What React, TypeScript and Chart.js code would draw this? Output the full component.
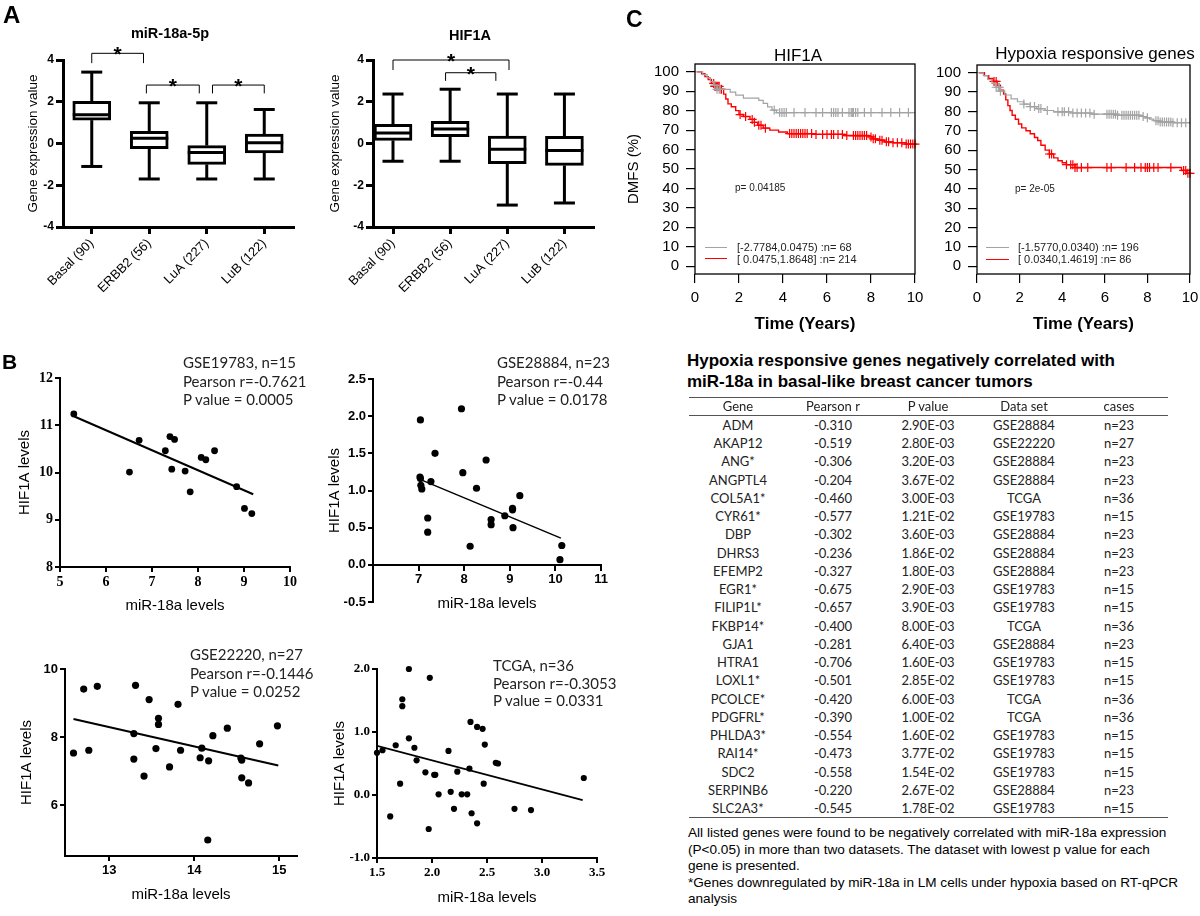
import React, { useEffect, useRef } from 'react';
import { Chart, registerables } from 'chart.js';
Chart.register(...registerables);

const SANS = "'Liberation Sans', Arial, Helvetica, sans-serif";
const SERIF = "'Liberation Serif', 'Times New Roman', serif";
const CAL = "Lato, 'Open Sans', 'Liberation Sans', sans-serif";
const NARROW = "'Liberation Sans Narrow', 'Liberation Sans', Arial, sans-serif";
Chart.defaults.font.family = SANS;
Chart.defaults.color = '#000';

// ---------------- Panel A: box plots ----------------
const SUBTYPES = ['Basal (90)', 'ERBB2 (56)', 'LuA (227)', 'LuB (122)'];
const MIR_MIN = [-1.1, -1.7, -1.7, -1.7];
const MIR_Q1 = [1.12, -0.25, -1.0, -0.45];
const MIR_MED = [1.38, 0.25, -0.43, 0.03];
const MIR_Q3 = [2.02, 0.58, -0.1, 0.45];
const MIR_MAX = [3.42, 1.95, 1.95, 1.63];
const HIF_MIN = [-0.85, -0.85, -2.95, -2.85];
const HIF_Q1 = [0.15, 0.33, -0.97, -1.05];
const HIF_MED = [0.5, 0.7, -0.28, -0.33];
const HIF_Q3 = [0.92, 1.06, 0.36, 0.34];
const HIF_MAX = [2.37, 2.6, 2.37, 2.37];
const MIR_BRACKETS = [
  { x0: 0, x1: 0.9, y: 4.32, drop: 3.85 },
  { x0: 0.95, x1: 1.87, y: 2.8, drop: 2.4 },
  { x0: 2.1, x1: 3.0, y: 2.8, drop: 2.4 },
];
const HIF_BRACKETS = [
  { x0: 0, x1: 2.03, y: 4.0, drop: 3.52 },
  { x0: 0.92, x1: 1.8, y: 3.39, drop: 3.0 },
];

// ---------------- Panel B: scatter plots ----------------
const GSE19783_MIR = [5.3, 6.51, 6.72, 7.29, 7.39, 7.49, 7.43, 7.72, 7.83, 8.07, 8.17, 8.36, 8.84, 9.01, 9.17];
const GSE19783_HIF = [11.24, 10.01, 10.68, 10.46, 10.76, 10.7, 10.07, 10.03, 9.59, 10.32, 10.27, 10.46, 9.7, 9.24, 9.13];
const GSE19783_FIT_X = [5.3, 9.2];
const GSE19783_FIT_Y = [11.19, 9.54];

const GSE28884_MIR = [7.04, 7.03, 7.05, 7.07, 7.27, 7.36, 7.2, 7.2, 7.94, 7.97, 8.13, 8.27, 8.48, 8.59, 8.59, 8.89, 9.06, 9.07, 9.22, 10.1, 10.14, 7.04, 9.06];
const GSE28884_HIF = [1.95, 1.18, 1.07, 1.02, 1.12, 1.5, 0.63, 0.44, 2.1, 1.24, 0.25, 1.03, 1.41, 0.61, 0.54, 0.66, 0.76, 0.5, 0.93, 0.07, 0.26, 1.16, 0.74];
const GSE28884_FIT_X = [7.03, 10.12];
const GSE28884_FIT_Y = [1.15, 0.36];

const GSE22220_MIR = [12.58, 12.7, 12.76, 12.86, 13.29, 13.29, 13.31, 13.41, 13.47, 13.55, 13.58, 13.58, 13.71, 13.81, 13.84, 14.07, 14.09, 14.17, 14.22, 14.16, 14.39, 14.55, 14.56, 14.56, 14.64, 14.77, 14.98];
const GSE22220_HIF = [7.53, 9.41, 7.61, 9.49, 7.35, 8.1, 9.52, 6.85, 9.1, 7.66, 8.37, 8.55, 7.12, 8.96, 7.61, 7.39, 7.67, 7.3, 8.04, 4.97, 8.26, 7.38, 7.32, 6.8, 6.65, 7.8, 8.33];
const GSE22220_FIT_X = [12.58, 14.99];
const GSE22220_FIT_Y = [8.53, 7.16];

const TCGA_MIR = [1.5, 1.55, 1.67, 1.62, 1.71, 1.73, 1.73, 1.79, 1.79, 1.84, 1.86, 1.94, 1.98, 1.97, 2.02, 2.03, 2.06, 2.15, 2.17, 2.2, 2.23, 2.27, 2.32, 2.34, 2.35, 2.36, 2.41, 2.41, 2.46, 2.47, 2.48, 2.58, 2.6, 2.75, 2.9, 3.38];
const TCGA_HIF = [0.67, 0.71, 0.79, -0.34, 0.18, 1.52, 1.41, 2.0, 0.9, 0.75, 0.55, 0.36, 1.86, -0.54, 0.32, 0.32, 0.01, 0.7, 0.05, -0.22, 0.37, 0.01, 0.01, 0.42, 1.16, -0.29, 1.08, -0.45, 1.05, 0.18, 0.8, 0.51, 0.5, -0.22, -0.24, 0.27];
const TCGA_FIT_X = [1.5, 3.37];
const TCGA_FIT_Y = [0.78, -0.08];

// ---------------- Panel C: Kaplan-Meier curves ----------------
const KM1_GRAY_T = [0, 0.35, 0.55, 0.7, 0.85, 1.0, 1.6, 1.85, 2.2, 2.9, 3.1, 3.3, 3.5, 3.7, 10];
const KM1_GRAY_S = [100, 98.5, 97, 95, 93, 91, 89.5, 88, 86.5, 85.3, 83.8, 82, 80.3, 79, 79];
const KM1_GRAY_CENSOR = [0.9, 1.0, 1.1, 1.15, 3.6, 3.85, 3.95, 4.05, 4.15, 4.5, 5.0, 5.5, 5.8, 6.2, 6.3, 6.4, 6.5, 6.7, 7.0, 7.1, 7.15, 7.2, 7.3, 7.4, 7.7, 8.0, 8.5, 8.9, 9.3, 9.7];
const KM1_RED_T = [0.1, 0.3, 0.45, 0.6, 0.75, 0.9, 1.15, 1.3, 1.4, 1.5, 1.65, 1.85, 2.0, 2.2, 2.5, 2.7, 2.85, 3.1, 3.4, 3.8, 4.2, 5.5, 6.8, 7.9, 8.1, 8.3, 8.6, 9.0, 9.6, 10];
const KM1_RED_S = [100, 99, 97.5, 96, 94, 92.5, 91, 88.5, 86, 83.5, 82, 80, 78, 77, 75.5, 74, 72.5, 71, 70, 69, 68.2, 67.8, 67.2, 66.5, 65.5, 64.8, 64, 63.5, 62.8, 62.8];
const KM1_RED_CENSOR = [0.85, 0.9, 0.95, 1.0, 1.05, 1.1, 1.2, 2.05, 2.3, 2.6, 2.7, 2.9, 3.0, 3.2, 4.3, 4.4, 4.5, 4.6, 4.7, 4.8, 4.9, 5.0, 5.1, 5.3, 5.5, 5.8, 6.0, 6.2, 6.3, 6.5, 6.7, 6.9, 7.2, 7.3, 7.4, 7.5, 7.6, 7.7, 7.8, 8.0, 8.1, 8.2, 8.4, 8.5, 8.7, 8.8, 9.0, 9.2, 9.4, 9.6, 9.7, 9.8, 9.9, 10.0];

const KM2_GRAY_T = [0, 0.3, 0.5, 0.7, 0.9, 1.1, 1.3, 1.6, 1.9, 2.2, 2.5, 2.8, 3.2, 3.6, 4.4, 5.4, 6.6, 7.7, 7.9, 8.1, 8.3, 8.6, 9.2, 10];
const KM2_GRAY_S = [100, 98.5, 96.5, 94.5, 92.5, 90.5, 88.5, 86.5, 85, 83.8, 82.5, 81.5, 80.5, 79.8, 79.2, 78.6, 78, 77.4, 76.7, 76, 75.2, 74.6, 74.2, 74.2];
const KM2_GRAY_CENSOR = [0.9, 1.0, 1.05, 1.1, 2.2, 2.5, 2.7, 2.9, 3.0, 3.3, 3.8, 4.0, 4.1, 4.3, 4.5, 4.7, 4.9, 5.1, 5.3, 5.5, 6.1, 6.2, 6.3, 6.4, 6.5, 6.6, 6.8, 6.9, 7.0, 7.1, 7.2, 7.3, 7.4, 7.5, 7.6, 7.8, 8.0, 8.4, 8.5, 8.6, 8.7, 8.8, 8.9, 9.0, 9.1, 9.2, 9.4, 9.6, 9.8];
const KM2_RED_T = [0.1, 0.35, 0.55, 0.75, 0.95, 1.1, 1.25, 1.35, 1.45, 1.55, 1.65, 1.8, 1.95, 2.1, 2.3, 2.5, 2.7, 2.85, 3.0, 3.2, 3.4, 3.6, 3.8, 4.0, 4.2, 4.6, 9.6, 9.85, 10];
const KM2_RED_S = [100, 98.5, 97, 95.5, 93.5, 91, 89, 86, 83, 80.5, 78, 76, 73.5, 71.5, 70, 68.5, 66.5, 65, 62.5, 60, 58, 56, 54.5, 53.5, 52.5, 51, 49.5, 48, 48];
const KM2_RED_CENSOR = [0.8, 0.9, 3.4, 3.5, 4.2, 4.4, 4.5, 4.6, 4.7, 4.9, 5.2, 6.1, 6.3, 7.0, 7.4, 7.7, 7.9, 8.0, 8.1, 8.3, 8.5, 9.1, 9.7, 9.8, 9.9, 10.0];
const KM_Y_TICKS = [0, 10, 20, 30, 40, 50, 60, 70, 80, 90, 100];
const KM_X_TICKS = [0, 2, 4, 6, 8, 10];

// ---------------- Table ----------------
const TABLE_HEAD = ['Gene', 'Pearson r', 'P value', 'Data set', 'cases'];
const GENES = ['ADM', 'AKAP12', 'ANG*', 'ANGPTL4', 'COL5A1*', 'CYR61*', 'DBP', 'DHRS3', 'EFEMP2', 'EGR1*', 'FILIP1L*', 'FKBP14*', 'GJA1', 'HTRA1', 'LOXL1*', 'PCOLCE*', 'PDGFRL*', 'PHLDA3*', 'RAI14*', 'SDC2', 'SERPINB6', 'SLC2A3*'];
const PEARSON = ['-0.310', '-0.519', '-0.306', '-0.204', '-0.460', '-0.577', '-0.302', '-0.236', '-0.327', '-0.675', '-0.657', '-0.400', '-0.281', '-0.706', '-0.501', '-0.420', '-0.390', '-0.554', '-0.473', '-0.558', '-0.220', '-0.545'];
const PVALUES = ['2.90E-03', '2.80E-03', '3.20E-03', '3.67E-02', '3.00E-03', '1.21E-02', '3.60E-03', '1.86E-02', '1.80E-03', '2.90E-03', '3.90E-03', '8.00E-03', '6.40E-03', '1.60E-03', '2.85E-02', '6.00E-03', '1.00E-02', '1.60E-02', '3.77E-02', '1.54E-02', '2.67E-02', '1.78E-02'];
const DATASETS = ['GSE28884', 'GSE22220', 'GSE28884', 'GSE28884', 'TCGA', 'GSE19783', 'GSE28884', 'GSE28884', 'GSE28884', 'GSE19783', 'GSE19783', 'TCGA', 'GSE28884', 'GSE19783', 'GSE19783', 'TCGA', 'TCGA', 'GSE19783', 'GSE19783', 'GSE19783', 'GSE28884', 'GSE19783'];
const CASES = ['n=23', 'n=27', 'n=23', 'n=23', 'n=36', 'n=15', 'n=23', 'n=23', 'n=23', 'n=15', 'n=15', 'n=36', 'n=23', 'n=15', 'n=15', 'n=36', 'n=36', 'n=15', 'n=15', 'n=15', 'n=23', 'n=15'];
const FOOTNOTE = [
  'All listed genes were found to be negatively correlated with miR-18a expression',
  '(P<0.05) in more than two datasets. The dataset with lowest p value for each',
  'gene is presented.',
  '*Genes downregulated by miR-18a in LM cells under hypoxia based on RT-qPCR',
  'analysis',
];

// ---------------- helpers ----------------
const stepAt = (T: number[], S: number[], t: number) => {
  let v = S[0];
  for (let i = 0; i < T.length; i++) if (T[i] <= t) v = S[i];
  return v;
};

type Area = { l: number; t: number; r: number; b: number };

function boxConfig(mn: number[], q1: number[], md: number[], q3: number[], mx: number[], brackets: any[], area: Area, W: number, H: number, xMin: number, yPad: number) {
  const LW = 3;
  const whisker = {
    id: 'whiskers',
    afterDatasetsDraw(chart: any) {
      const { ctx } = chart;
      const xs = chart.scales.x, ys = chart.scales.y;
      ctx.save();
      ctx.strokeStyle = '#000';
      ctx.lineWidth = LW;
      const seg = (a: number, b: number, c: number, d: number) => { ctx.beginPath(); ctx.moveTo(a, b); ctx.lineTo(c, d); ctx.stroke(); };
      mn.forEach((_, i) => {
        const cx = xs.getPixelForValue(i);
        seg(cx, ys.getPixelForValue(q3[i]), cx, ys.getPixelForValue(mx[i]));
        seg(cx, ys.getPixelForValue(q1[i]), cx, ys.getPixelForValue(mn[i]));
        seg(cx - 10.5, ys.getPixelForValue(mx[i]), cx + 10.5, ys.getPixelForValue(mx[i]));
        seg(cx - 10.5, ys.getPixelForValue(mn[i]), cx + 10.5, ys.getPixelForValue(mn[i]));
        seg(cx - 19, ys.getPixelForValue(md[i]), cx + 19, ys.getPixelForValue(md[i]));
      });
      ctx.lineWidth = 1;
      ctx.font = `bold 21px ${SANS}`;
      ctx.textAlign = 'center';
      ctx.textBaseline = 'alphabetic';
      ctx.fillStyle = '#000';
      brackets.forEach((b) => {
        const x0 = xs.getPixelForValue(b.x0), x1 = xs.getPixelForValue(b.x1);
        const y = ys.getPixelForValue(b.y), yd = ys.getPixelForValue(b.drop);
        ctx.beginPath();
        ctx.moveTo(x0, yd); ctx.lineTo(x0, y); ctx.lineTo(x1, y); ctx.lineTo(x1, yd);
        ctx.stroke();
        ctx.fillText('*', (x0 + x1) / 2, y + 8);
      });
      ctx.restore();
    },
  };
  return {
    type: 'bar',
    data: {
      datasets: [{
        data: q1.map((v, i) => ({ x: i, y: [v, q3[i]] })),
        backgroundColor: '#fff', borderColor: '#000', borderWidth: LW, borderSkipped: false, barThickness: 38,
      }],
    },
    options: {
      animation: false, responsive: false, events: [],
      layout: { padding: { top: area.t, right: W - area.r, left: 0, bottom: 0 } },
      plugins: { legend: { display: false }, tooltip: { enabled: false } },
      scales: {
        x: {
          type: 'linear', min: xMin, max: 3.5, offset: false,
          afterFit: (s: any) => { s.height = H - area.b; },
          afterBuildTicks: (s: any) => { s.ticks = SUBTYPES.map((_, i) => ({ value: i })); },
          ticks: { callback: (v: number) => SUBTYPES[v], minRotation: 45, maxRotation: 45, autoSkip: false, font: { size: 13 }, padding: 2, color: '#000' },
          grid: { offset: false, drawOnChartArea: false, tickLength: 7, color: '#000', lineWidth: LW },
          border: { color: '#000', width: LW },
        },
        y: {
          min: -4, max: 4,
          afterFit: (s: any) => { s.width = area.l; },
          afterBuildTicks: (s: any) => { s.ticks = [-4, -2, 0, 2, 4].map((v) => ({ value: v })); },
          ticks: { font: { size: 12, weight: 'bold' }, padding: 2, color: '#000' },
          title: { display: true, text: 'Gene expression value', font: { size: 13.5 }, padding: { top: yPad, bottom: 0 }, color: '#000' },
          grid: { drawOnChartArea: false, tickLength: 7, color: '#000', lineWidth: LW },
          border: { color: '#000', width: LW },
        },
      },
    },
    plugins: [whisker],
  };
}

function scatterConfig(o: any) {
  const tf = o.tickFont;
  return {
    type: 'scatter',
    data: {
      datasets: [
        { data: o.xs.map((x: number, i: number) => ({ x, y: o.ys[i] })), backgroundColor: '#000', borderColor: '#000', pointRadius: o.r, borderWidth: 0, clip: false },
        { type: 'line', data: o.fx.map((x: number, i: number) => ({ x, y: o.fy[i] })), borderColor: '#000', borderWidth: o.lw, pointRadius: 0, fill: false },
      ],
    },
    options: {
      animation: false, responsive: false, events: [],
      layout: { padding: { top: o.area.t, right: o.W - o.area.r, left: 0, bottom: o.xAtZero ? o.H - o.area.b : 0 } },
      plugins: { legend: { display: false }, tooltip: { enabled: false } },
      scales: {
        x: {
          type: 'linear', min: o.xMin, max: o.xMax,
          position: o.xAtZero ? { y: 0 } : 'bottom',
          afterFit: o.xAtZero ? undefined : (s: any) => { s.height = o.H - o.area.b; },
          afterBuildTicks: (s: any) => { s.ticks = o.xTicks.map((v: number) => ({ value: v })); },
          ticks: { callback: (v: number) => o.xFmt(v), font: tf, padding: 2, color: '#000', autoSkip: false, maxRotation: 0 },
          grid: { drawOnChartArea: false, tickLength: 5, color: '#000', lineWidth: 2 },
          border: { color: '#000', width: 2 },
          title: o.xAtZero ? { display: false } : { display: true, text: 'miR-18a levels', font: { size: 15 }, padding: { top: 0, bottom: o.xpb }, color: '#000' },
        },
        y: {
          type: 'linear', min: o.yMin, max: o.yMax,
          afterFit: (s: any) => { s.width = o.area.l; },
          afterBuildTicks: (s: any) => { s.ticks = o.yTicks.map((v: number) => ({ value: v })); },
          ticks: { callback: (v: number) => o.yFmt(v), font: tf, padding: 2, color: '#000' },
          grid: { drawOnChartArea: false, tickLength: 5, color: '#000', lineWidth: 2 },
          border: { color: '#000', width: 2 },
          title: { display: true, text: 'HIF1A levels', font: { size: 15 }, padding: { top: o.ypt, bottom: 0 }, color: '#000' },
        },
      },
    },
  };
}

function kmConfig(o: any) {
  const GRAY = '#a3a3a3', RED = '#ff0000';
  const curve = (T: number[], S: number[], C: number[], color: string, w: number) => [
    { type: 'line', data: T.map((t, i) => ({ x: t, y: S[i] })), borderColor: color, borderWidth: w, pointRadius: 0, stepped: true, fill: false, clip: false },
    { type: 'scatter', data: C.map((t) => ({ x: t, y: stepAt(T, S, t) })), pointStyle: 'cross', pointRadius: 4.5, borderColor: color, backgroundColor: color, borderWidth: 1.2, clip: false },
  ];
  const frame = {
    id: 'frame',
    afterDraw(chart: any) {
      const { ctx, chartArea: a } = chart;
      ctx.save();
      ctx.strokeStyle = '#000';
      ctx.lineWidth = 1.3;
      ctx.strokeRect(a.left, a.top, a.right - a.left, a.bottom - a.top);
      ctx.restore();
    },
  };
  return {
    type: 'scatter',
    data: { datasets: [...curve(o.gT, o.gS, o.gC, GRAY, 1.2), ...curve(o.rT, o.rS, o.rC, RED, 1.4)] },
    options: {
      animation: false, responsive: false, events: [],
      layout: { padding: { top: o.area.t, right: o.W - o.area.r, left: 0, bottom: 0 } },
      plugins: { legend: { display: false }, tooltip: { enabled: false } },
      scales: {
        x: {
          type: 'linear', min: 0, max: 10,
          afterFit: (s: any) => { s.height = o.H - o.area.b; },
          afterBuildTicks: (s: any) => { s.ticks = KM_X_TICKS.map((v) => ({ value: v })); },
          ticks: { font: { size: o.fs }, padding: o.xTickPad, color: '#000', autoSkip: false, maxRotation: 0 },
          grid: { drawOnChartArea: false, tickLength: 9, color: '#000', lineWidth: 1.2 },
          border: { display: false },
          title: { display: true, text: 'Time (Years)', font: { size: 17, weight: 'bold' }, padding: { top: 0, bottom: 5 }, color: '#000' },
        },
        y: {
          type: 'linear', min: -4, max: 104,
          afterFit: (s: any) => { s.width = o.area.l; },
          afterBuildTicks: (s: any) => { s.ticks = KM_Y_TICKS.map((v) => ({ value: v })); },
          ticks: { font: { size: o.fs }, padding: 7, color: '#000', autoSkip: false },
          grid: { drawOnChartArea: false, tickLength: 9, color: '#000', lineWidth: 1.2 },
          border: { display: false },
          title: o.yTitle ? { display: true, text: 'DMFS (%)', font: { size: 15 }, padding: { top: 10, bottom: 0 }, color: '#000' } : { display: false },
        },
      },
    },
    plugins: [frame],
  };
}

function ChartCanvas({ x, y, w, h, make }: { x: number; y: number; w: number; h: number; make: () => any }) {
  const ref = useRef<HTMLCanvasElement | null>(null);
  useEffect(() => {
    const chart = new Chart(ref.current as HTMLCanvasElement, make());
    return () => chart.destroy();
  }, []);
  return <canvas ref={ref} width={w} height={h} style={{ position: 'absolute', left: x, top: y, width: w, height: h }} />;
}

function Txt({ x, y, children, size = 13, weight = 'normal', family = SANS, center = false, color = '#000' }: any) {
  return (
    <div style={{
      position: 'absolute', left: x, top: y, fontSize: size, fontWeight: weight, fontFamily: family, color,
      whiteSpace: 'nowrap', lineHeight: 1,
      transform: center ? 'translate(-50%,-50%)' : 'translate(0,-50%)',
    }}>{children}</div>
  );
}

const intFmt = (v: number) => String(v);
const dec1 = (v: number) => v.toFixed(1);

export default function App() {
  const COLS = [738, 833, 928, 1024, 1119];
  const ROW0 = 425, ROWH = 18.24;
  const tableCols = [GENES, PEARSON, PVALUES, DATASETS, CASES];
  return (
    <div style={{ position: 'absolute', left: 0, top: 0, width: 1200, height: 916, overflow: 'hidden', background: '#fff', fontFamily: SANS }}>
      {/* Panel A */}
      <ChartCanvas x={0} y={0} w={310} h={310} make={() => boxConfig(MIR_MIN, MIR_Q1, MIR_MED, MIR_Q3, MIR_MAX, MIR_BRACKETS, { l: 63, t: 60, r: 293, b: 227 }, 310, 310, -0.5, 25)} />
      <ChartCanvas x={320} y={0} w={300} h={310} make={() => boxConfig(HIF_MIN, HIF_Q1, HIF_MED, HIF_Q3, HIF_MAX, HIF_BRACKETS, { l: 53, t: 60, r: 273, b: 227 }, 300, 310, -0.35, 7)} />
      <Txt x={3} y={15} size={24} weight="bold">A</Txt>
      <Txt x={170} y={33} size={14.5} weight="bold" center>miR-18a-5p</Txt>
      <Txt x={470} y={35} size={14.5} weight="bold" center>HIF1A</Txt>

      {/* Panel B */}
      <ChartCanvas x={0} y={340} w={320} h={280} make={() => scatterConfig({
        xs: GSE19783_MIR, ys: GSE19783_HIF, fx: GSE19783_FIT_X, fy: GSE19783_FIT_Y,
        area: { l: 60, t: 38, r: 290, b: 227 }, W: 320, H: 280, xMin: 5, xMax: 10, yMin: 8, yMax: 12,
        xTicks: [5, 6, 7, 8, 9, 10], yTicks: [8, 9, 10, 11, 12], xFmt: intFmt, yFmt: intFmt,
        tickFont: { family: SERIF, size: 14, weight: 'bold' }, r: 3.4, lw: 2, ypt: 16, xpb: 5,
      })} />
      <ChartCanvas x={320} y={340} w={320} h={280} make={() => scatterConfig({
        xs: GSE28884_MIR, ys: GSE28884_HIF, fx: GSE28884_FIT_X, fy: GSE28884_FIT_Y,
        area: { l: 53, t: 39, r: 281, b: 262 }, W: 320, H: 280, xMin: 6, xMax: 11, yMin: -0.5, yMax: 2.5,
        xTicks: [7, 8, 9, 10, 11], yTicks: [-0.5, 0, 0.5, 1, 1.5, 2, 2.5], xFmt: intFmt, yFmt: dec1, xAtZero: true,
        tickFont: { family: NARROW, size: 13, weight: 'bold' }, r: 3.6, lw: 1.5, ypt: 6, xpb: 0,
      })} />
      <ChartCanvas x={0} y={630} w={320} h={286} make={() => scatterConfig({
        xs: GSE22220_MIR, ys: GSE22220_HIF, fx: GSE22220_FIT_X, fy: GSE22220_FIT_Y,
        area: { l: 65, t: 39, r: 297, b: 226 }, W: 320, H: 286, xMin: 12.48, xMax: 15.21, yMin: 4.5, yMax: 10,
        xTicks: [13, 14, 15], yTicks: [6, 8, 10], xFmt: intFmt, yFmt: intFmt,
        tickFont: { family: SANS, size: 13, weight: 'bold' }, r: 3.6, lw: 2, ypt: 18, xpb: 12,
      })} />
      <ChartCanvas x={320} y={630} w={320} h={286} make={() => scatterConfig({
        xs: TCGA_MIR, ys: TCGA_HIF, fx: TCGA_FIT_X, fy: TCGA_FIT_Y,
        area: { l: 57, t: 39, r: 277, b: 228 }, W: 320, H: 286, xMin: 1.5, xMax: 3.5, yMin: -1, yMax: 2,
        xTicks: [1.5, 2, 2.5, 3, 3.5], yTicks: [-1, 0, 1, 2], xFmt: dec1, yFmt: dec1,
        tickFont: { family: SERIF, size: 13, weight: 'bold' }, r: 3.1, lw: 1.8, ypt: 11, xpb: 9,
      })} />
      <Txt x={2} y={361} size={21} weight="bold">B</Txt>
      <Txt x={183} y={362} size={15} family={CAL} color="#222">GSE19783, n=15</Txt>
      <Txt x={183} y={381} size={15} family={CAL} color="#222">Pearson r=-0.7621</Txt>
      <Txt x={183} y={399} size={15} family={CAL} color="#222">P value = 0.0005</Txt>
      <Txt x={497} y={362} size={15} family={CAL} color="#222">GSE28884, n=23</Txt>
      <Txt x={497} y={381} size={15} family={CAL} color="#222">Pearson r=-0.44</Txt>
      <Txt x={497} y={399} size={15} family={CAL} color="#222">P value = 0.0178</Txt>
      <Txt x={487} y={602} size={15} center>miR-18a levels</Txt>
      <Txt x={190} y={654} size={15} family={CAL} color="#222">GSE22220, n=27</Txt>
      <Txt x={190} y={673} size={15} family={CAL} color="#222">Pearson r=-0.1446</Txt>
      <Txt x={190} y={691} size={15} family={CAL} color="#222">P value = 0.0252</Txt>
      <Txt x={493} y={665} size={15} family={CAL} color="#222">TCGA, n=36</Txt>
      <Txt x={493} y={683} size={15} family={CAL} color="#222">Pearson r=-0.3053</Txt>
      <Txt x={493} y={700} size={15} family={CAL} color="#222">P value = 0.0331</Txt>

      {/* Panel C: KM */}
      <ChartCanvas x={615} y={40} w={320} h={300} make={() => kmConfig({
        gT: KM1_GRAY_T, gS: KM1_GRAY_S, gC: KM1_GRAY_CENSOR, rT: KM1_RED_T, rS: KM1_RED_S, rC: KM1_RED_CENSOR,
        area: { l: 80, t: 24, r: 300, b: 234 }, W: 320, H: 300, fs: 15, xTickPad: 6, yTitle: true,
      })} />
      <ChartCanvas x={900} y={40} w={320} h={300} make={() => kmConfig({
        gT: KM2_GRAY_T, gS: KM2_GRAY_S, gC: KM2_GRAY_CENSOR, rT: KM2_RED_T, rS: KM2_RED_S, rC: KM2_RED_CENSOR,
        area: { l: 77, t: 25, r: 290, b: 234 }, W: 320, H: 300, fs: 15, xTickPad: 6, yTitle: false,
      })} />
      <Txt x={626} y={19} size={23} weight="bold">C</Txt>
      <Txt x={798} y={55} size={17} center>HIF1A</Txt>
      <Txt x={1095} y={53} size={17} center>Hypoxia responsive genes</Txt>
      <Txt x={735} y={188} size={10} color="#222">p= 0.04185</Txt>
      <Txt x={1015} y={189} size={10} color="#222">p= 2e-05</Txt>
      <div style={{ position: 'absolute', left: 705, top: 247, width: 22, borderTop: '1px solid #a3a3a3' }} />
      <div style={{ position: 'absolute', left: 705, top: 258, width: 22, borderTop: '1.5px solid #ff0000' }} />
      <Txt x={737} y={247} size={11} color="#222">[-2.7784,0.0475) :n= 68</Txt>
      <Txt x={737} y={259} size={11} color="#222">[ 0.0475,1.8648] :n= 214</Txt>
      <div style={{ position: 'absolute', left: 986, top: 247, width: 23, borderTop: '1px solid #a3a3a3' }} />
      <div style={{ position: 'absolute', left: 986, top: 259, width: 23, borderTop: '1.5px solid #ff0000' }} />
      <Txt x={1018} y={247} size={11} color="#222">[-1.5770,0.0340) :n= 196</Txt>
      <Txt x={1018} y={259} size={11} color="#222">[ 0.0340,1.4619] :n= 86</Txt>

      {/* Table */}
      <Txt x={687} y={360} size={17} weight="bold">Hypoxia responsive genes negatively correlated with</Txt>
      <Txt x={687} y={381} size={17} weight="bold">miR-18a in basal-like breast cancer tumors</Txt>
      <div style={{ position: 'absolute', left: 689, top: 397, width: 479, borderTop: '1px solid #555' }} />
      <div style={{ position: 'absolute', left: 689, top: 415, width: 479, borderTop: '1px solid #555' }} />
      <div style={{ position: 'absolute', left: 689, top: 817, width: 479, borderTop: '1px solid #555' }} />
      {TABLE_HEAD.map((h, c) => (
        <Txt key={'h' + c} x={COLS[c]} y={406} size={13} family={CAL} color="#222" center>{h}</Txt>
      ))}
      {GENES.map((_, r) => tableCols.map((col, c) => (
        <Txt key={r + '-' + c} x={COLS[c]} y={ROW0 + r * ROWH} size={13} family={CAL} color="#222" center>{col[r]}</Txt>
      )))}
      {FOOTNOTE.map((line, i) => (
        <Txt key={'f' + i} x={688} y={833 + i * 16.6} size={13.6}>{line}</Txt>
      ))}
    </div>
  );
}
